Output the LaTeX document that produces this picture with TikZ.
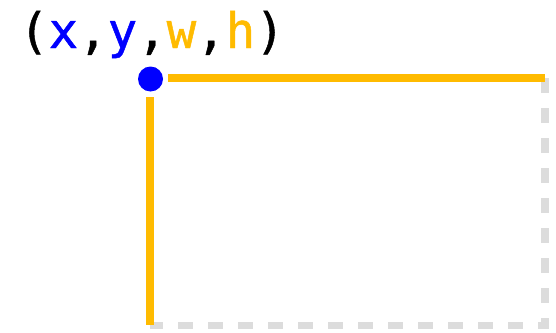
\documentclass[tikz,border=0pt]{standalone}
\usepackage{fontspec}
\newfontfamily\codefont[FakeBold=1]{DejaVu Sans Mono}
\definecolor{amber}{RGB}{255,187,0}
\definecolor{dotblue}{RGB}{0,0,255}
\definecolor{dashgray}{RGB}{220,220,220}
\begin{document}
\begin{tikzpicture}[x=1pt,y=-1pt,
  edgeline/.style={draw=amber,line width=8pt},
  ghostline/.style={draw=dashgray,line width=7.5pt,dash pattern=on 15pt off 15pt},
  label/.style={inner sep=0pt,anchor=base west,font=\codefont\fontsize{49}{52}\selectfont}]
\useasboundingbox (0,0) rectangle (556,332);
\coordinate (tr) at (545,78);
\coordinate (br) at (545,325.5);
\coordinate (bl) at (150,325.5);
\coordinate (ts) at (168,78);
\coordinate (ls) at (150,97);
\coordinate (le) at (150,325);
\draw[ghostline] (tr) -- (br) -- (bl);
\draw[edgeline] (ts) -- (tr);
\draw[edgeline] (ls) -- (le);
\node[circle,fill=dotblue,inner sep=0pt,minimum size=25pt] (pt) at (150.5,79) {};
\node[label] (txt) at (19,48) {(\textcolor{dotblue}{x},\textcolor{dotblue}{y},\textcolor{amber}{w},\textcolor{amber}{h})};
\end{tikzpicture}
\end{document}
